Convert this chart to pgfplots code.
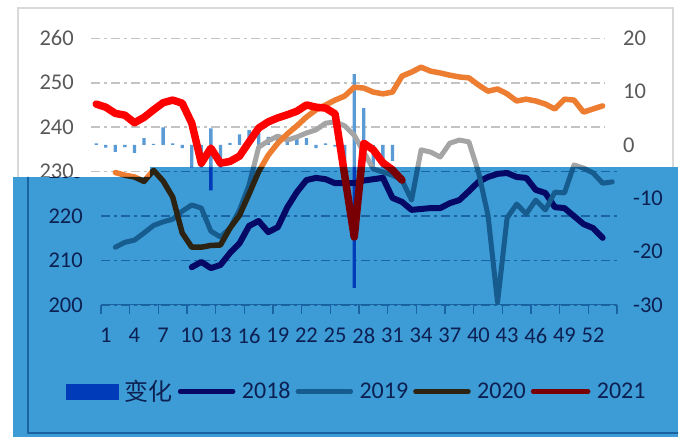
\documentclass[border=0pt]{standalone}
\usepackage{fontspec}
\setmainfont{Carlito}
\newfontfamily\cjk{Noto Sans CJK SC}
\usepackage{pgfplots}
\usepackage{pgfplotstable}
\pgfplotsset{compat=1.18}

\definecolor{boxc}{RGB}{61,155,214}
\definecolor{gridO}{RGB}{195,195,195}
\definecolor{gridI}{RGB}{25,100,160}
\definecolor{axO}{RGB}{191,191,191}
\definecolor{axI}{RGB}{25,100,160}
\definecolor{txtO}{RGB}{89,89,89}
\definecolor{txtI}{RGB}{12,32,82}
\definecolor{barO}{RGB}{91,155,213}
\definecolor{barI}{RGB}{0,60,185}
\definecolor{c18O}{RGB}{0,0,100}
\definecolor{c18I}{RGB}{5,8,100}
\definecolor{c19O}{RGB}{165,165,165}
\definecolor{c19I}{RGB}{22,92,142}
\definecolor{c20O}{RGB}{237,125,49}
\definecolor{c20I}{RGB}{45,35,18}
\definecolor{c21O}{RGB}{255,0,0}
\definecolor{c21I}{RGB}{120,0,5}
\definecolor{frameO}{RGB}{217,217,217}

\pgfplotstableread{
x y
0 0.3
1 -0.5
2 -1.3
3 -0.4
4 -1.5
5 1.3
6 0.2
7 3.3
8 0.3
9 -0.6
10 -4.2
11 -4.2
12 3.1
13 -4.2
14 0.4
15 2.0
16 2.8
17 2.2
18 1.5
19 1.8
20 0.9
21 1.5
22 1.3
23 -0.6
24 0.3
25 -0.3
26 -4.2
27 13.3
28 6.9
29 -4.2
30 -4.2
31 -3.0
}\tbars

\pgfplotstableread{
x y
12 -8.5
27 -26.8
}\tbarsb

\pgfplotstableread{
x y
10 208.5
11 209.7
12 208.3
13 209.0
14 211.7
15 213.9
16 217.8
17 218.9
18 216.4
19 217.5
20 222.0
21 225.4
22 228.1
23 228.6
24 228.3
25 227.4
26 227.4
27 227.4
28 228.0
29 228.3
30 228.6
31 224.1
32 223.2
33 221.4
34 221.6
35 221.8
36 221.8
37 222.9
38 223.6
39 225.6
40 227.7
41 228.8
42 229.5
43 229.7
44 228.8
45 228.6
46 225.9
47 225.2
48 222.0
49 221.8
50 220.0
51 218.2
52 217.3
53 215.1
}\tA

\pgfplotstableread{
x y
2 213.0
3 214.1
4 214.6
5 216.2
6 217.9
7 218.7
8 219.3
9 221.1
10 222.5
11 221.8
12 216.6
13 215.3
14 217.3
15 221.4
16 227.0
17 235.5
18 236.9
19 238.0
20 237.1
21 237.8
22 238.7
23 239.4
24 240.9
25 241.2
26 240.3
27 238.2
28 234.4
29 230.6
30 229.9
31 229.2
32 228.1
33 223.6
34 234.9
35 234.4
36 233.3
37 236.4
38 237.1
39 236.7
40 229.9
41 220.2
42 200.6
43 219.6
44 222.7
45 220.5
46 223.6
47 221.4
48 225.4
49 225.2
50 231.5
51 230.8
52 229.7
53 227.4
54 227.7
}\tB

\pgfplotstableread{
x y
2 229.8
3 229.2
4 228.8
5 227.8
6 230.3
7 227.9
8 224.3
9 216.2
10 213.0
11 213.0
12 213.4
13 213.5
14 217.3
15 220.2
16 225.0
17 230.0
18 233.7
19 236.4
20 238.5
21 240.3
22 242.3
23 243.9
24 245.0
25 246.1
26 247.0
27 249.0
28 248.8
29 247.9
30 247.5
31 247.9
32 251.5
33 252.4
34 253.5
35 252.6
36 252.2
37 251.7
38 251.3
39 251.1
40 249.5
41 248.1
42 248.6
43 247.5
44 245.9
45 246.3
46 245.9
47 245.2
48 244.1
49 246.3
50 246.1
51 243.4
52 244.1
53 244.8
}\tC

\pgfplotstableread{
x y
0 245.2
1 244.5
2 243.1
3 242.7
4 241.0
5 242.2
6 243.9
7 245.5
8 246.1
9 245.4
10 240.9
11 231.9
12 235.3
13 231.9
14 232.3
15 233.5
16 236.7
17 239.8
18 241.2
19 242.1
20 242.8
21 243.6
22 245.0
23 244.5
24 244.3
25 243.0
26 229.2
27 215.3
28 236.4
29 234.9
30 232.0
31 230.4
32 228.1
}\tD

\pgfplotsset{
  base/.style={scale only axis, width=516pt, height=266.7pt, at={(101pt,136pt)},
    anchor=south west, xmin=0.5, xmax=54.5, clip=false, hide axis},
  lblfont/.style={font=\fontsize{22.5}{27}\selectfont},
}

\newcommand{\legendI}{%
\addlegendimage{legend image code/.code={\fill[barI] (0pt,-7.5pt) rectangle (52pt,7.5pt);}}
\addlegendentry{{\cjk 变化}}
\addlegendimage{legend image code/.code={\draw[c18I, line width=4.5pt, line cap=round] (2pt,0pt) -- (55pt,0pt);}}
\addlegendentry{2018}
\addlegendimage{legend image code/.code={\draw[c19I, line width=4.5pt, line cap=round] (2pt,0pt) -- (55pt,0pt);}}
\addlegendentry{2019}
\addlegendimage{legend image code/.code={\draw[c20I, line width=4.5pt, line cap=round] (2pt,0pt) -- (55pt,0pt);}}
\addlegendentry{2020}
\addlegendimage{legend image code/.code={\draw[c21I, line width=4.5pt, line cap=round] (2pt,0pt) -- (57pt,0pt);}}
\addlegendentry{2021}
}

% #1 suffix, #2 grid-axis x position, #3 grid-axis width, #4 left label shift, #5 right label shift, #6 legend
\newcommand{\chart}[6]{%
\begin{axis}[scale only axis, width=#3, height=266.7pt, at={(#2,136pt)}, anchor=south west,
  xmin=0.5, xmax=54.5, ymin=200, ymax=260, lblfont,
  axis line style={draw=none},
  ytick={200,210,...,260}, yticklabels={200,210,220,230,240,250,260},
  ytick style={draw=none}, ytick pos=left, xtick pos=bottom,
  ymajorgrids, major grid style={grid#1, line width=1.5pt, dash pattern=on 9pt off 4pt on 3pt off 4pt},
  xtick={1,4,...,52}, xticklabels={1,4,7,10,13,16,19,22,25,28,31,34,37,40,43,46,49,52},
  minor xtick={0.5,3.5,...,54.5},
  major tick length=0pt, minor tick length=9pt, tick align=outside,
  every minor tick/.append style={ax#1, line width=1.3pt},
  yticklabel style={anchor=east, inner sep=0pt, xshift=#4, text=txt#1},
  xticklabel style={anchor=north, inner sep=0pt, yshift=-23pt, text=txt#1},
]
\draw[ax#1, line width=1.3pt] (axis cs:0.5,200) -- (axis cs:54.5,200);
\end{axis}
\begin{axis}[scale only axis, width=#3, height=266.7pt, at={(#2,136pt)}, anchor=south west,
  xmin=0.5, xmax=54.5, ymin=-30, ymax=20, lblfont, axis line style={draw=none},
  xtick=\empty, ytick={-30,-20,...,20}, yticklabels={-30,-20,-10,0,10,20},
  ytick style={draw=none}, yticklabel pos=right,
  yticklabel style={anchor=west, inner sep=0pt, xshift=#5, text=txt#1}]
\end{axis}
\begin{axis}[base, ymin=-30, ymax=20]
\addplot[ybar, bar width=3.3pt, bar shift=0pt, fill=bar#1, draw=none, forget plot] table {\tbars};
\addplot[ybar, bar width=3.3pt, bar shift=0pt, fill=bar#1, draw=none, forget plot] table {\tbarsb};
\end{axis}
\begin{axis}[base, ymin=200, ymax=260,
  legend style={draw=none, fill=none, at={(-0.0678,-0.3243)}, anchor=west, inner sep=0pt, outer sep=0pt,
    font=\fontsize{24}{28}\selectfont, text=txtI, legend columns=-1,
    /tikz/every odd column/.append style={column sep=4.5pt},
    /tikz/every even column/.append style={column sep=3pt}},
  legend cell align=left]
#6
\addplot[c18#1, line width=6pt, line join=round, line cap=round, forget plot] table {\tA};
\addplot[c19#1, line width=5pt, line join=round, line cap=round, forget plot] table {\tB};
\addplot[c20#1, line width=5.5pt, line join=round, line cap=round, forget plot] table {\tC};
\addplot[c21#1, line width=7.5pt, line join=round, line cap=round, forget plot] table {\tD};
\end{axis}
}

\begin{document}
\begin{tikzpicture}
\fill[white] (0pt,0pt) rectangle (694pt,441pt);
\useasboundingbox (0pt,0pt) rectangle (694pt,441pt);
\draw[frameO, line width=1.2pt] (18pt,8pt) rectangle (673pt,433pt);
\chart{O}{91pt}{514pt}{-17pt}{18pt}{}
\fill[boxc] (13pt,4pt) rectangle (150pt,264pt);
\fill[boxc] (150pt,4pt) rectangle (678pt,274pt);
\begin{scope}
\clip (13pt,4pt) rectangle (150pt,264pt) (150pt,4pt) rectangle (678pt,274pt);
\draw[axI, line width=1.2pt] (28pt,280pt) -- (28pt,8pt) -- (690pt,8pt);
\chart{I}{101pt}{516pt}{-18pt}{16pt}{\legendI}
\end{scope}
\end{tikzpicture}
\end{document}
